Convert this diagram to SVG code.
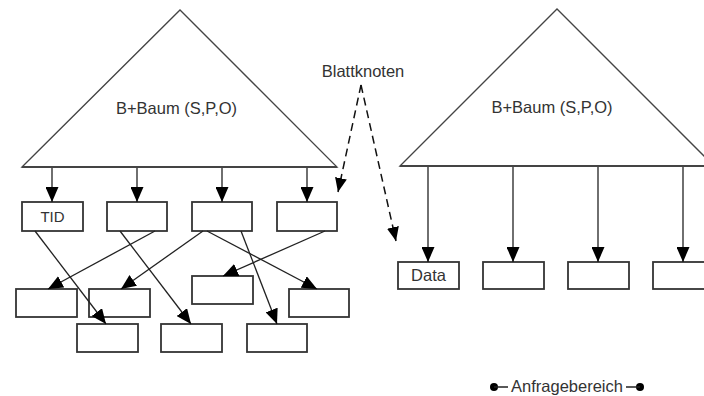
<svg xmlns="http://www.w3.org/2000/svg" width="704" height="396" viewBox="0 0 704 396">
  <style>
    .tri { fill: #fff; stroke: #444; stroke-width: 1.3; }
    .base { stroke: #444; stroke-width: 2.2; }
    .box { fill: #fff; stroke: #333; stroke-width: 1.8; }
    .lbl { font-family: "Liberation Sans", Arial, sans-serif; font-size: 16.5px; fill: #333; text-anchor: middle; }
    .edge { stroke: #222; stroke-width: 1.3; fill: none; marker-end: url(#arrow); }
    .dash { stroke: #111; stroke-width: 1.5; fill: none; stroke-dasharray: 8 5; marker-end: url(#arrowD); }
  </style>
  <defs>
    <marker id="arrow" markerUnits="userSpaceOnUse" markerWidth="15" markerHeight="13" refX="15" refY="6.5" orient="auto">
      <path d="M0,0 L15,6.5 L0,13 Z" fill="#000"/>
    </marker>
    <marker id="arrowD" markerUnits="userSpaceOnUse" markerWidth="14" markerHeight="12" refX="14" refY="6" orient="auto">
      <path d="M0,0 L14,6 L0,12 Z" fill="#000"/>
    </marker>
  </defs>

  <rect width="704" height="396" fill="#fff"/>

  <!-- left B+ tree -->
  <g id="treeLeft">
    <polygon class="tri" points="22,167 180,10 337,167"/>
    <line class="base" x1="22" y1="167" x2="337" y2="167"/>
    <text class="lbl" x="176.5" y="114">B+Baum (S,P,O)</text>
  </g>

  <!-- right B+ tree -->
  <g id="treeRight">
    <polygon class="tri" points="400,166 557,9 714,166"/>
    <line class="base" x1="400" y1="166" x2="714" y2="166"/>
    <text class="lbl" x="552" y="113">B+Baum (S,P,O)</text>
  </g>

  <g id="leafLabel">
    <text class="lbl" x="363" y="77">Blattknoten</text>
  </g>

  <!-- left leaf level -->
  <g id="leafTID"><rect class="box" x="22" y="202" width="61" height="29"/><text class="lbl" x="52.5" y="222" style="font-size:15px">TID</text></g>
  <g id="leaf2"><rect class="box" x="107" y="202" width="60" height="29"/></g>
  <g id="leaf3"><rect class="box" x="192" y="202" width="60" height="29"/></g>
  <g id="leaf4"><rect class="box" x="277" y="202" width="60" height="29"/></g>

  <!-- left data records -->
  <g id="recA1"><rect class="box" x="16" y="289" width="61" height="28"/></g>
  <g id="recA2"><rect class="box" x="89" y="289" width="61" height="28"/></g>
  <g id="recB"><rect class="box" x="192" y="276" width="61" height="28"/></g>
  <g id="recA4"><rect class="box" x="289" y="289" width="60" height="28"/></g>
  <g id="recC1"><rect class="box" x="77" y="324" width="61" height="28"/></g>
  <g id="recC2"><rect class="box" x="161" y="324" width="61" height="28"/></g>
  <g id="recC3"><rect class="box" x="247" y="324" width="60" height="28"/></g>

  <!-- right data level -->
  <g id="dataR1"><rect class="box" x="398" y="262" width="61" height="27"/><text class="lbl" x="428.5" y="281">Data</text></g>
  <g id="dataR2"><rect class="box" x="483" y="262" width="61" height="27"/></g>
  <g id="dataR3"><rect class="box" x="568" y="262" width="61" height="27"/></g>
  <g id="dataR4"><rect class="box" x="653" y="262" width="61" height="27"/></g>

  <!-- query range -->
  <g id="queryRange">
    <circle cx="494" cy="387" r="4" fill="#000"/>
    <circle cx="640" cy="387" r="4" fill="#000"/>
    <line x1="494" y1="387" x2="508" y2="387" stroke="#222" stroke-width="1.5"/>
    <line x1="626" y1="387" x2="640" y2="387" stroke="#222" stroke-width="1.5"/>
    <text class="lbl" x="567" y="391.5">Anfragebereich</text>
  </g>

  <g id="connectors">
    <!-- tree to leaves (left) -->
    <line class="edge" x1="52" y1="168" x2="52" y2="202"/>
    <line class="edge" x1="137" y1="168" x2="137" y2="202"/>
    <line class="edge" x1="222" y1="168" x2="222" y2="202"/>
    <line class="edge" x1="307" y1="168" x2="307" y2="202"/>
    <!-- leaves to records -->
    <line class="edge" x1="35" y1="231" x2="106" y2="324"/>
    <line class="edge" x1="155" y1="231" x2="48" y2="289"/>
    <line class="edge" x1="120" y1="231" x2="191" y2="324"/>
    <line class="edge" x1="203" y1="231" x2="121" y2="289"/>
    <line class="edge" x1="207" y1="231" x2="317" y2="289"/>
    <line class="edge" x1="241" y1="231" x2="277" y2="324"/>
    <line class="edge" x1="325" y1="231" x2="223" y2="276"/>
    <!-- tree to data (right) -->
    <line class="edge" x1="428" y1="167" x2="428" y2="262"/>
    <line class="edge" x1="513" y1="167" x2="513" y2="262"/>
    <line class="edge" x1="598" y1="167" x2="598" y2="262"/>
    <line class="edge" x1="683" y1="167" x2="683" y2="262"/>
    <!-- leaf-level pointers -->
    <line class="dash" x1="361" y1="85" x2="338" y2="192"/>
    <line class="dash" x1="361" y1="85" x2="396" y2="241"/>
  </g>
</svg>
